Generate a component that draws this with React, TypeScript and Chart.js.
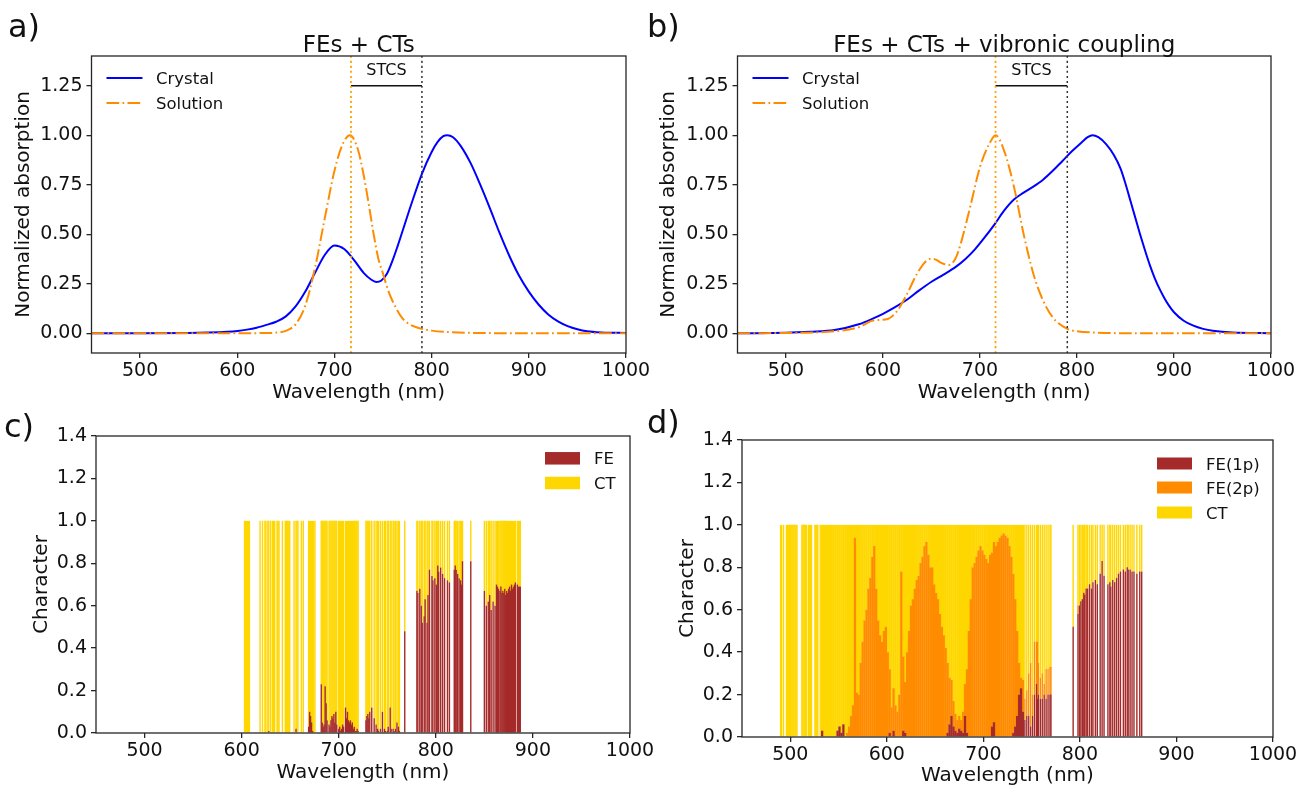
import React, { useEffect, useRef } from 'react';
import { Chart, registerables } from 'chart.js';

Chart.register(...registerables);

const FONT_FAMILY = '"DejaVu Sans", "Liberation Sans", sans-serif';
Chart.defaults.font.family = FONT_FAMILY;

const CANVAS_W = 1313;
const CANVAS_H = 789;

// ---------- shared axes ----------
const wlRange = [450, 1000];
const wlTicks = [500, 600, 700, 800, 900, 1000];
const wlTickLabels = ['500', '600', '700', '800', '900', '1000'];
const absRange = [-0.1, 1.4];
const absTicks = [0, 0.25, 0.5, 0.75, 1.0, 1.25];
const absTickLabels = ['0.00', '0.25', '0.50', '0.75', '1.00', '1.25'];
const charRange = [0, 1.4];
const charTicks = [0, 0.2, 0.4, 0.6, 0.8, 1.0, 1.2, 1.4];
const charTickLabels = ['0.0', '0.2', '0.4', '0.6', '0.8', '1.0', '1.2', '1.4'];

// ---------- panel a: FEs + CTs ----------
const aCrystalWl = [450, 500, 550, 570, 590, 600, 610, 620, 630, 640,
  650, 660, 670, 680, 690, 700, 710, 720, 730, 738,
  743, 748, 754, 760, 765, 770, 780, 790, 800, 806,
  812, 816, 822, 830, 840, 850, 860, 870, 880, 890,
  900, 910, 920, 930, 940, 950, 960, 975, 1000];
const aCrystalAbs = [0, 0, 0.001, 0.003, 0.007, 0.011, 0.018, 0.028, 0.042, 0.058,
  0.085, 0.135, 0.21, 0.305, 0.395, 0.443, 0.425, 0.37, 0.305, 0.27,
  0.259, 0.265, 0.3, 0.37, 0.44, 0.515, 0.665, 0.805, 0.915, 0.965,
  0.995, 1.0, 0.99, 0.945, 0.86, 0.75, 0.63, 0.505, 0.39, 0.29,
  0.21, 0.145, 0.095, 0.06, 0.036, 0.02, 0.01, 0.004, 0.001];
const aSolutionWl = [450, 600, 630, 640, 650, 660, 670, 680, 690, 700,
  708, 716, 724, 730, 736, 740, 745, 750, 755, 760,
  770, 780, 790, 800, 820, 850, 900, 1000];
const aSolutionAbs = [0, 0, 0.001, 0.003, 0.012, 0.045, 0.14, 0.33, 0.58, 0.82,
  0.95, 1.0, 0.93, 0.8, 0.63, 0.51, 0.38, 0.3, 0.22, 0.16,
  0.075, 0.038, 0.022, 0.013, 0.005, 0.001, 0, 0];
const aSolutionPeakWl = 717;
const aCrystalEdgeWl = 790;

// ---------- panel b: FEs + CTs + vibronic coupling ----------
const bCrystalWl = [450, 500, 525, 550, 575, 590, 600, 612, 625, 637,
  650, 662, 675, 685, 695, 705, 715, 725, 735, 745,
  755, 765, 775, 785, 795, 805, 811, 816, 822, 830,
  838, 845, 850, 855, 860, 865, 870, 875, 880, 885,
  890, 895, 900, 910, 920, 930, 940, 960, 1000];
const bCrystalAbs = [0, 0.002, 0.007, 0.016, 0.045, 0.075, 0.098, 0.13, 0.17, 0.215,
  0.26, 0.295, 0.335, 0.375, 0.425, 0.485, 0.55, 0.62, 0.675, 0.71,
  0.74, 0.775, 0.82, 0.87, 0.92, 0.965, 0.99, 1.0, 0.99, 0.955,
  0.9, 0.83, 0.755, 0.67, 0.585, 0.5, 0.42, 0.345, 0.28, 0.225,
  0.178, 0.138, 0.106, 0.063, 0.038, 0.022, 0.012, 0.003, 0];
const bSolutionWl = [450, 500, 550, 575, 590, 605, 615, 625, 635, 645,
  650, 655, 660, 668, 675, 680, 690, 700, 710, 716,
  725, 735, 745, 755, 765, 775, 790, 800, 820, 850,
  1000];
const bSolutionAbs = [0, 0.001, 0.01, 0.03, 0.064, 0.072, 0.115, 0.2, 0.3, 0.367,
  0.376, 0.37, 0.355, 0.345, 0.38, 0.45, 0.64, 0.84, 0.96, 1.0,
  0.92, 0.74, 0.50, 0.30, 0.165, 0.08, 0.022, 0.01, 0.003, 0,
  0];
const bSolutionPeakWl = 716;
const bCrystalEdgeWl = 790;
const stcsLevel = 1.25;

// ---------- panel c: state character (FE / CT) ----------
const cWl = [
  603, 604, 605, 606, 607, 608,
  619, 621.5, 624, 625, 627, 628, 630, 632, 633, 634,
  636.5, 637.5, 638.5, 642, 645, 646, 647, 648, 649.5, 654,
  656, 657, 658, 661.5, 663.5, 669, 670, 671, 672, 673,
  674, 675.5,
  682, 683, 684, 685, 686, 687, 688, 690, 691, 692,
  693, 694, 695, 696, 697, 698, 700, 701, 702, 703,
  704, 705, 707, 708, 709, 710, 711, 712, 713, 714,
  715, 716, 717, 718, 719, 720,
  728, 729, 730, 731, 732, 734, 736.5, 738.5, 740, 741,
  743, 745, 747, 748, 750, 751, 753, 754, 756, 757,
  758.5, 760, 761.5, 762.5, 768,
  780.5, 781.5, 783.5, 785, 786, 788, 789, 791, 792, 793.5,
  796, 797, 799, 800.5, 802, 803, 805, 807, 809, 812,
  814, 819, 820, 821, 822.5, 824, 825.5, 826.5, 827.5, 836,
  850, 852, 854, 855.5, 857, 859, 861, 862.5, 863.5, 864.5,
  866, 867, 868, 869, 870, 871, 872, 873, 874, 875,
  876, 877, 878, 879, 880, 881, 882, 884, 885, 886, 887,
];
const cFE = [
  0, 0, 0, 0, 0, 0,
  0, 0, 0, 0, 0, 0.01, 0, 0, 0, 0,
  0, 0, 0, 0, 0, 0, 0, 0, 0, 0,
  0.02, 0, 0, 0, 0, 0.03, 0.1, 0.08, 0.05, 0.01,
  0, 0,
  0.23, 0.05, 0.03, 0.04, 0.22, 0.14, 0.06, 0.04, 0.03, 0.06,
  0.08, 0.07, 0.09, 0.05, 0.1, 0.04, 0.02, 0.03, 0.01, 0.02,
  0.04, 0.03, 0.12, 0.07, 0.1, 0.06, 0.05, 0.06, 0.04, 0.05,
  0.02, 0.03, 0.01, 0.01, 0.02, 0.01,
  0.06, 0.08, 0.09, 0.07, 0.1, 0.12, 0.07, 0.04, 0.02, 0.01,
  0.02, 0.1, 0.02, 0.01, 0.01, 0.03, 0.12, 0.02, 0.02, 0.01,
  0.02, 0.05, 0.03, 0.01, 0.48,
  0.67, 0.66, 0.68, 0.6, 0.52, 0.55, 0.63, 0.52, 0.65, 0.77,
  0.74, 0.72, 0.73, 0.7, 0.79, 0.76, 0.78, 0.75, 0.73, 0.72,
  0.71, 0.77, 0.79, 0.77, 0.75, 0.73, 0.72, 0.7, 0.81, 0.81,
  0.67, 0.6, 0.62, 0.65, 0.58, 0.62, 0.6, 0.7, 0.69, 0.68,
  0.67, 0.69, 0.66, 0.67, 0.66, 0.68, 0.65, 0.67, 0.66, 0.68,
  0.69, 0.67, 0.7, 0.68, 0.69, 0.7, 0.71, 0.7, 0.69, 0.69, 0.69,
];

// ---------- panel d: state character (FE 1p / FE 2p / CT) ----------
const dDenseWl = [
  533, 535, 537, 539, 541, 543, 545, 547, 549, 551,
  553, 555, 557, 559, 561, 563, 565, 567, 569, 571,
  573, 575, 577, 579, 581, 583, 585, 587, 589, 591,
  593, 595, 597, 599, 601, 603, 605, 607, 609, 611,
  613, 615, 617, 619, 621, 623, 625, 627, 629, 631,
  633, 635, 637, 639, 641, 643, 645, 647, 649, 651,
  653, 655, 657, 659, 661, 663, 665, 667, 669, 671,
  673, 675, 677, 679, 681, 683, 685, 687, 689, 691,
  693, 695, 697, 699, 701, 703, 705, 707, 709, 711,
  713, 715, 717, 719, 721, 723, 725, 727, 729, 731,
  733, 735, 737, 739, 741,
];
const dDenseFE1 = [
  0.03, 0, 0, 0, 0, 0, 0, 0, 0.03, 0.05,
  0.02, 0.06, 0, 0, 0, 0, 0, 0, 0, 0,
  0, 0, 0, 0, 0, 0, 0, 0, 0, 0,
  0, 0, 0, 0, 0, 0.02, 0, 0.03, 0, 0,
  0, 0, 0.03, 0.02, 0, 0, 0, 0, 0, 0,
  0, 0, 0, 0, 0, 0, 0, 0, 0, 0,
  0, 0, 0, 0, 0, 0.02, 0.06, 0.1, 0.05, 0.03,
  0.02, 0.04, 0.03, 0.02, 0.1, 0.02, 0, 0, 0, 0,
  0, 0, 0, 0, 0, 0, 0, 0, 0.05, 0.07,
  0, 0, 0, 0, 0, 0, 0, 0, 0, 0.02,
  0.05, 0.1, 0.2, 0.23, 0.12,
];
const dDenseFE2 = [
  0, 0, 0, 0, 0, 0, 0, 0, 0, 0,
  0, 0, 0, 0.02, 0.05, 0.1, 0.15, 0.94, 0.21, 0.2,
  0.35, 0.45, 0.55, 0.6, 0.7, 0.75, 0.85, 0.9, 0.7, 0.55,
  0.48, 0.45, 0.5, 0.52, 0.4, 0.3, 0.14, 0.2, 0.15, 0.12,
  0.2, 0.78, 0.35, 0.24, 0.4, 0.5, 0.62, 0.65, 0.7, 0.74,
  0.76, 0.82, 0.85, 0.9, 0.92, 0.86, 0.8, 0.8, 0.72, 0.68,
  0.65, 0.58, 0.52, 0.48, 0.42, 0.33, 0.22, 0.17, 0.12, 0.08,
  0.06, 0.06, 0.05, 0.1, 0.15, 0.3, 0.5, 0.65, 0.8, 0.82,
  0.85, 0.88, 0.9, 0.88, 0.86, 0.84, 0.82, 0.86, 0.82, 0.85,
  0.9, 0.92, 0.94, 0.95, 0.96, 0.95, 0.94, 0.9, 0.85, 0.75,
  0.6, 0.4, 0.15, 0.05, 0.15,
];
const dLineWl = [
  490, 491, 493, 496, 497, 498, 499, 500, 501, 502,
  503, 504, 505, 506, 507, 512, 513, 514, 515, 516,
  517, 519, 520, 521, 522, 525.5, 526.5, 527.5, 528.5, 531,
  743, 745, 747, 749, 751, 753, 755, 756, 757, 759,
  761, 763, 765, 767, 769, 770,
  793, 798, 799.5, 801, 802.5, 804, 805, 806.5, 808, 810,
  812, 813.5, 816, 818, 821, 823, 825, 829, 831, 832,
  834, 836, 838, 840, 842, 845, 847, 849, 850, 852,
  854, 856, 859, 862, 864,
];
const dLineFE1 = [
  0, 0, 0, 0, 0, 0, 0, 0, 0, 0,
  0, 0, 0, 0, 0, 0, 0, 0, 0, 0,
  0, 0, 0, 0, 0, 0, 0, 0, 0, 0,
  0.08, 0.1, 0.1, 0.05, 0.1, 0.2, 0.25, 0.18, 0.2, 0.18,
  0.18, 0.2, 0.18, 0.2, 0.2, 0.2,
  0.52, 0.58, 0.62, 0.64, 0.65, 0.68, 0.67, 0.7, 0.7, 0.72,
  0.7, 0.73, 0.74, 0.72, 0.77, 0.83, 0.76, 0.72, 0.73, 0.71,
  0.74, 0.73, 0.75, 0.77, 0.78, 0.79, 0.78, 0.8, 0.79, 0.79,
  0.78, 0.78, 0.77, 0.78, 0.78,
];
const dLineFE2 = [
  0, 0, 0, 0, 0, 0, 0, 0, 0, 0,
  0, 0, 0, 0, 0, 0, 0, 0, 0, 0,
  0, 0, 0, 0, 0, 0, 0, 0, 0, 0,
  0.1, 0.12, 0.2, 0.3, 0.1, 0.25, 0.2, 0.27, 0.15, 0.1,
  0.12, 0.05, 0.14, 0.12, 0.13, 0.13,
  0, 0.04, 0, 0, 0, 0, 0, 0, 0, 0,
  0, 0, 0, 0, 0, 0, 0, 0, 0, 0,
  0, 0, 0, 0, 0, 0, 0, 0, 0, 0,
  0, 0, 0, 0, 0,
];

// ---------- colours ----------
const CRYSTAL_COLOR = '#0000ff';
const SOLUTION_COLOR = '#ff8c00';
const PEAK_LINE_COLOR = '#ffa500';
const EDGE_LINE_COLOR = '#333333';
const FE_COLOR = '#a52a2a';
const FE2_COLOR = '#ff8c00';
const CT_COLOR = '#ffd700';
const TEXT_COLOR = '#111111';
const SPINE_COLOR = '#262626';

type PanelBox = { left: number; right: number; top: number; bottom: number; axisLeft: number; axisBottom: number };
const boxA: PanelBox = { left: 91.5, right: 626, top: 56, bottom: 353, axisLeft: 12, axisBottom: 405 };
const boxB: PanelBox = { left: 737.5, right: 1271, top: 56, bottom: 353, axisLeft: 657, axisBottom: 405 };
const boxC: PanelBox = { left: 96, right: 630, top: 436, bottom: 733, axisLeft: 30, axisBottom: 785 };
const boxD: PanelBox = { left: 742, right: 1273, top: 440, bottom: 737, axisLeft: 676, axisBottom: 788 };

type LegendEntry = { label: string; color: string; kind: 'line' | 'box'; dash?: number[] };
type Decor = {
  title?: string;
  legend: LegendEntry[];
  legendX: number;
  fromRight: boolean;
  sampleW: number;
  sampleH: number;
  textOffset: number;
  rowY: number[];
  stcs?: { from: number; to: number; level: number; label: string };
};

const toPoints = (xs: number[], ys: number[]) => xs.map((x, i) => ({ x, y: ys[i] }));
const remainder = (a: number[], b?: number[]) =>
  a.map((v, i) => Math.max(0, +(1 - v - (b ? b[i] : 0)).toFixed(3)));

function decorPlugin(d: Decor) {
  return {
    id: 'mplDecor',
    afterDatasetsDraw(chart: any) {
      const { ctx, chartArea: ca } = chart;
      ctx.save();
      ctx.setLineDash([]);
      ctx.strokeStyle = SPINE_COLOR;
      ctx.lineWidth = 1.3;
      ctx.strokeRect(ca.left, ca.top, ca.right - ca.left, ca.bottom - ca.top);
      ctx.fillStyle = TEXT_COLOR;
      ctx.textBaseline = 'alphabetic';
      if (d.title) {
        ctx.font = `23px ${FONT_FAMILY}`;
        ctx.textAlign = 'center';
        ctx.fillText(d.title, (ca.left + ca.right) / 2, ca.top - 4);
      }
      if (d.stcs) {
        const xs = chart.scales.x;
        const ys = chart.scales.y;
        const cx = (xs.getPixelForValue(d.stcs.from) + xs.getPixelForValue(d.stcs.to)) / 2;
        const y = ys.getPixelForValue(d.stcs.level) - 11;
        ctx.font = `16px ${FONT_FAMILY}`;
        ctx.textAlign = 'center';
        ctx.fillText(d.stcs.label, cx, y);
      }
      const x0 = d.fromRight ? ca.right - d.legendX : ca.left + d.legendX;
      d.legend.forEach((item, i) => {
        const y = ca.top + d.rowY[i];
        if (item.kind === 'line') {
          ctx.strokeStyle = item.color;
          ctx.lineWidth = 2;
          ctx.setLineDash(item.dash || []);
          ctx.beginPath();
          ctx.moveTo(x0, y);
          ctx.lineTo(x0 + d.sampleW, y);
          ctx.stroke();
          ctx.setLineDash([]);
        } else {
          ctx.fillStyle = item.color;
          ctx.fillRect(x0, y - d.sampleH / 2, d.sampleW, d.sampleH);
        }
        ctx.fillStyle = TEXT_COLOR;
        ctx.font = `16.5px ${FONT_FAMILY}`;
        ctx.textAlign = 'left';
        ctx.fillText(item.label, x0 + d.textOffset, y + 6);
      });
      ctx.restore();
    },
  };
}

const gridOpts = {
  display: true,
  drawOnChartArea: false,
  drawTicks: true,
  tickLength: 5,
  color: SPINE_COLOR,
  lineWidth: 1.3,
  offset: false,
};

function xAxis(box: PanelBox) {
  return {
    type: 'linear',
    min: wlRange[0],
    max: wlRange[1],
    offset: false,
    stacked: true,
    afterFit: (s: any) => { s.height = box.axisBottom - box.bottom; },
    afterBuildTicks: (s: any) => { s.ticks = wlTicks.map((v) => ({ value: v })); },
    ticks: {
      callback: (_v: any, i: number) => wlTickLabels[i],
      font: { family: FONT_FAMILY, size: 19 },
      color: TEXT_COLOR,
      padding: 2,
      maxRotation: 0,
      autoSkip: false,
    },
    grid: gridOpts,
    border: { display: false },
    title: { display: true, text: 'Wavelength (nm)', font: { family: FONT_FAMILY, size: 20 }, color: TEXT_COLOR, padding: 0 },
  };
}

function yAxis(box: PanelBox, range: number[], ticks: number[], labels: string[], title: string, stacked: boolean) {
  return {
    type: 'linear',
    min: range[0],
    max: range[1],
    stacked,
    afterFit: (s: any) => { s.width = box.left - box.axisLeft; },
    afterBuildTicks: (s: any) => { s.ticks = ticks.map((v) => ({ value: v })); },
    ticks: {
      callback: (_v: any, i: number) => labels[i],
      font: { family: FONT_FAMILY, size: 19 },
      color: TEXT_COLOR,
      padding: 4,
      autoSkip: false,
    },
    grid: gridOpts,
    border: { display: false },
    title: { display: true, text: title, font: { family: FONT_FAMILY, size: 20 }, color: TEXT_COLOR, padding: 0 },
  };
}

function baseOptions(box: PanelBox, scales: any) {
  return {
    responsive: false,
    animation: false,
    devicePixelRatio: 1,
    events: [],
    layout: {
      padding: { left: box.axisLeft, top: box.top, right: CANVAS_W - box.right, bottom: CANVAS_H - box.axisBottom },
    },
    plugins: { legend: { display: false }, tooltip: { enabled: false }, title: { display: false } },
    scales,
  };
}

const SOLUTION_DASH = [12.7, 3.3, 1.7, 3.3];
const absLegend: LegendEntry[] = [
  { label: 'Crystal', color: CRYSTAL_COLOR, kind: 'line' },
  { label: 'Solution', color: SOLUTION_COLOR, kind: 'line', dash: SOLUTION_DASH },
];

function absorptionConfig(box: PanelBox, title: string, crystalWl: number[], crystalAbs: number[],
  solWl: number[], solAbs: number[], peakWl: number, edgeWl: number) {
  const line = { pointRadius: 0, fill: false, cubicInterpolationMode: 'monotone' };
  return {
    type: 'line',
    data: {
      datasets: [
        { ...line, data: [{ x: peakWl, y: absRange[0] }, { x: peakWl, y: absRange[1] }], borderColor: PEAK_LINE_COLOR, borderWidth: 1.8, borderDash: [2, 3] },
        { ...line, data: [{ x: edgeWl, y: absRange[0] }, { x: edgeWl, y: absRange[1] }], borderColor: EDGE_LINE_COLOR, borderWidth: 1.5, borderDash: [2, 3] },
        { ...line, data: [{ x: peakWl, y: stcsLevel }, { x: edgeWl, y: stcsLevel }], borderColor: '#111', borderWidth: 1.6 },
        { ...line, label: 'Solution', data: toPoints(solWl, solAbs), borderColor: SOLUTION_COLOR, borderWidth: 2, borderDash: SOLUTION_DASH },
        { ...line, label: 'Crystal', data: toPoints(crystalWl, crystalAbs), borderColor: CRYSTAL_COLOR, borderWidth: 2 },
      ],
    },
    options: baseOptions(box, {
      x: { ...xAxis(box), stacked: false },
      y: yAxis(box, absRange, absTicks, absTickLabels, 'Normalized absorption', false),
    }),
    plugins: [decorPlugin({
      title,
      legend: absLegend,
      legendX: 15,
      fromRight: false,
      sampleW: 36,
      sampleH: 2,
      textOffset: 49.5,
      rowY: [22, 47],
      stcs: { from: peakWl, to: edgeWl, level: stcsLevel, label: 'STCS' },
    })],
  };
}

function barSet(label: string, xs: number[], ys: number[], color: string, thickness: number) {
  return {
    label,
    data: toPoints(xs, ys),
    backgroundColor: color,
    borderWidth: 0,
    barThickness: thickness,
    inflateAmount: 0,
  };
}

function characterCConfig() {
  const cCT = remainder(cFE);
  return {
    type: 'bar',
    data: {
      datasets: [
        barSet('FE', cWl, cFE, FE_COLOR, 1.4),
        barSet('CT', cWl, cCT, CT_COLOR, 1.4),
      ],
    },
    options: baseOptions(boxC, {
      x: xAxis(boxC),
      y: yAxis(boxC, charRange, charTicks, charTickLabels, 'Character', true),
    }),
    plugins: [decorPlugin({
      legend: [
        { label: 'FE', color: FE_COLOR, kind: 'box' },
        { label: 'CT', color: CT_COLOR, kind: 'box' },
      ],
      legendX: 85,
      fromRight: true,
      sampleW: 35,
      sampleH: 12.5,
      textOffset: 49,
      rowY: [22.3, 47],
    })],
  };
}

function characterDConfig() {
  const dDenseCT = remainder(dDenseFE1, dDenseFE2);
  const dLineCT = remainder(dLineFE1, dLineFE2);
  return {
    type: 'bar',
    data: {
      datasets: [
        barSet('FE(1p)', dDenseWl, dDenseFE1, FE_COLOR, 2.3),
        barSet('FE(2p)', dDenseWl, dDenseFE2, FE2_COLOR, 2.3),
        barSet('CT', dDenseWl, dDenseCT, CT_COLOR, 2.3),
        barSet('FE(1p) lines', dLineWl, dLineFE1, FE_COLOR, 1.4),
        barSet('FE(2p) lines', dLineWl, dLineFE2, FE2_COLOR, 1.4),
        barSet('CT lines', dLineWl, dLineCT, CT_COLOR, 1.4),
      ],
    },
    options: baseOptions(boxD, {
      x: xAxis(boxD),
      y: yAxis(boxD, charRange, charTicks, charTickLabels, 'Character', true),
    }),
    plugins: [decorPlugin({
      legend: [
        { label: 'FE(1p)', color: FE_COLOR, kind: 'box' },
        { label: 'FE(2p)', color: FE2_COLOR, kind: 'box' },
        { label: 'CT', color: CT_COLOR, kind: 'box' },
      ],
      legendX: 116,
      fromRight: true,
      sampleW: 35,
      sampleH: 12,
      textOffset: 49,
      rowY: [23.5, 47.5, 72.5],
    })],
  };
}

function ChartLayer({ make }: { make: () => any }) {
  const ref = useRef<HTMLCanvasElement>(null);
  useEffect(() => {
    if (!ref.current) return;
    const chart = new Chart(ref.current, make());
    return () => chart.destroy();
  }, [make]);
  return (
    <canvas
      ref={ref}
      width={CANVAS_W}
      height={CANVAS_H}
      style={{ position: 'absolute', left: 0, top: 0, width: CANVAS_W, height: CANVAS_H }}
    />
  );
}

const makeA = () => absorptionConfig(boxA, 'FEs + CTs', aCrystalWl, aCrystalAbs, aSolutionWl, aSolutionAbs, aSolutionPeakWl, aCrystalEdgeWl);
const makeB = () => absorptionConfig(boxB, 'FEs + CTs + vibronic coupling', bCrystalWl, bCrystalAbs, bSolutionWl, bSolutionAbs, bSolutionPeakWl, bCrystalEdgeWl);

const panelLabels = [
  { text: 'a)', left: 8, top: 10 },
  { text: 'b)', left: 647, top: 10 },
  { text: 'c)', left: 4, top: 410 },
  { text: 'd)', left: 647, top: 406 },
];

export default function App() {
  return (
    <div style={{ position: 'absolute', left: 0, top: 0, width: CANVAS_W, height: CANVAS_H, background: '#fff', overflow: 'hidden' }}>
      <ChartLayer make={makeA} />
      <ChartLayer make={makeB} />
      <ChartLayer make={characterCConfig} />
      <ChartLayer make={characterDConfig} />
      {panelLabels.map((p) => (
        <div
          key={p.text}
          style={{ position: 'absolute', left: p.left, top: p.top, fontFamily: FONT_FAMILY, fontSize: 32, lineHeight: 1, color: TEXT_COLOR }}
        >
          {p.text}
        </div>
      ))}
    </div>
  );
}
